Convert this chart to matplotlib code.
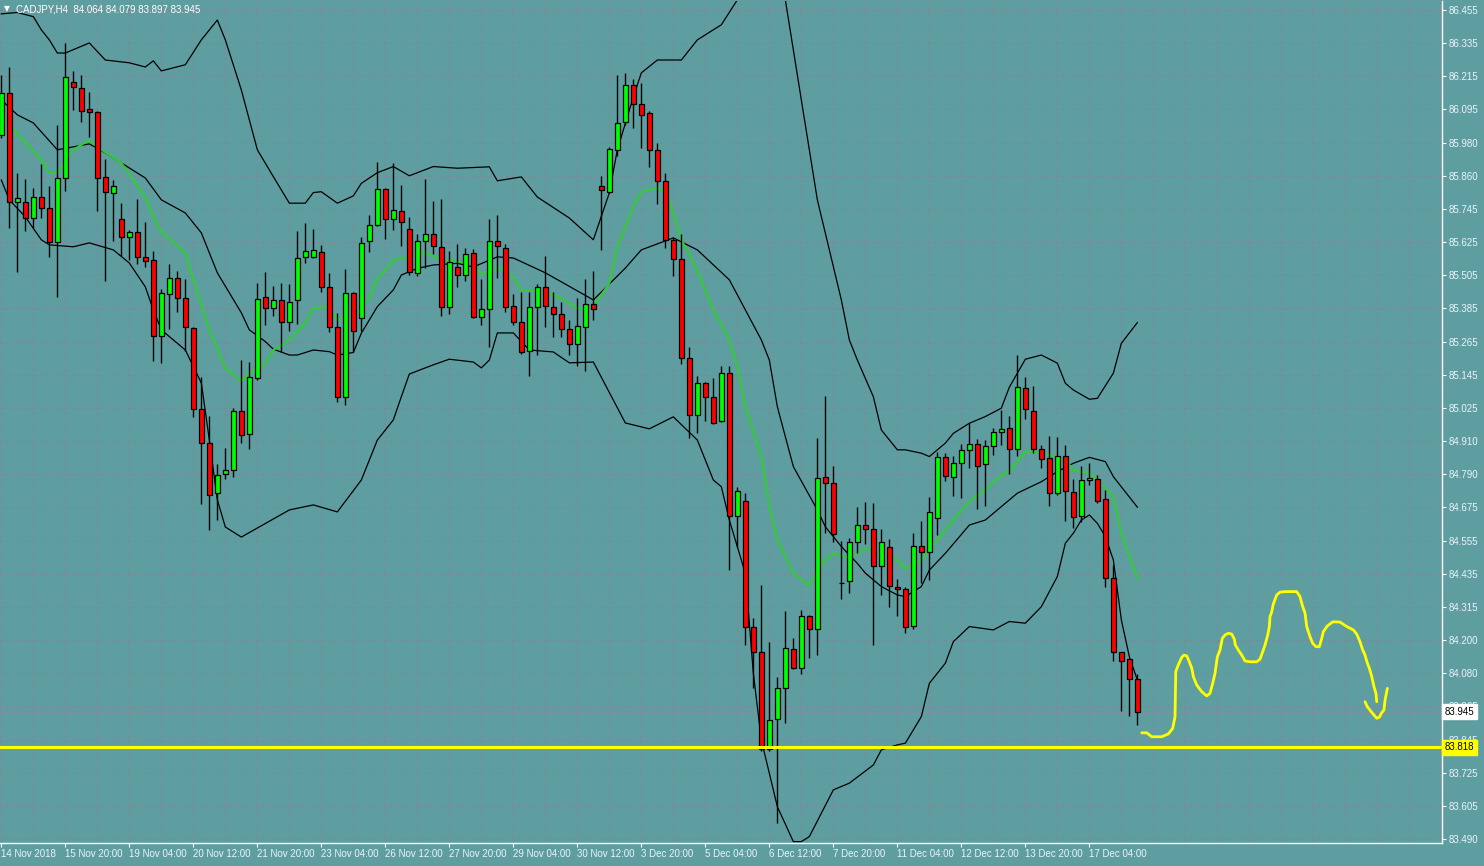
import matplotlib
matplotlib.use("Agg")
import matplotlib.pyplot as plt
import numpy as np

# ---------------- data ----------------
opens = [86.008, 86.157, 85.767, 85.767, 85.710, 85.785, 85.746, 85.624, 85.853, 86.197,
         86.175, 86.100, 86.089, 85.857, 85.802, 85.707, 85.644, 85.660, 85.571, 85.560,
         85.288, 85.438, 85.496, 85.424, 85.317, 85.027, 84.908, 84.727, 84.795, 84.810,
         85.021, 84.938, 85.138, 85.428, 85.388, 85.416, 85.340, 85.416, 85.571, 85.571,
         85.591, 85.463, 85.320, 85.070, 85.442, 85.353, 85.628, 85.687, 85.816, 85.707,
         85.737, 85.673, 85.514, 85.628, 85.653, 85.609, 85.392, 85.535, 85.507, 85.585,
         85.358, 85.385, 85.630, 85.603, 85.398, 85.340, 85.237, 85.394, 85.466, 85.392,
         85.367, 85.313, 85.260, 85.323, 85.403, 85.827, 85.805, 85.955, 86.054, 86.187,
         86.118, 86.086, 85.955, 85.845, 85.633, 85.564, 85.210, 85.005, 85.120, 85.070,
         84.984, 85.156, 84.646, 84.700, 84.247, 84.160, 83.811, 83.918, 84.029, 84.169,
         84.101, 84.288, 84.240, 84.786, 84.762, 84.407, 84.413, 84.551, 84.612, 84.598,
         84.468, 84.536, 84.393, 84.383, 84.252, 84.539, 84.516, 84.637, 84.855, 84.784,
         84.834, 84.881, 84.902, 84.830, 84.896, 84.945, 84.959, 84.884, 85.102, 85.022,
         84.884, 84.852, 84.727, 84.860, 84.732, 84.646, 84.773, 84.777, 84.705, 84.423,
         84.158, 84.135, 84.064]
highs = [86.223, 86.252, 85.871, 85.850, 85.818, 85.903, 85.826, 86.044, 86.338, 86.235,
         86.223, 86.161, 86.095, 85.921, 85.847, 85.764, 85.668, 85.778, 85.696, 85.593,
         85.456, 85.547, 85.522, 85.492, 85.320, 85.142, 85.003, 84.832, 84.888, 85.033,
         85.203, 85.195, 85.478, 85.517, 85.468, 85.478, 85.474, 85.665, 85.692, 85.671,
         85.614, 85.514, 85.370, 85.528, 85.445, 85.642, 85.722, 85.913, 85.820, 85.907,
         85.829, 85.714, 85.653, 85.850, 85.772, 85.778, 85.594, 85.618, 85.603, 85.599,
         85.493, 85.707, 85.722, 85.617, 85.438, 85.448, 85.448, 85.475, 85.575, 85.446,
         85.412, 85.347, 85.424, 85.492, 85.522, 85.862, 85.965, 86.223, 86.231, 86.207,
         86.195, 86.095, 85.978, 85.871, 85.639, 85.654, 85.251, 85.146, 85.125, 85.138,
         85.182, 85.182, 84.749, 84.729, 84.280, 84.399, 84.196, 84.069, 84.306, 84.208,
         84.309, 84.292, 84.926, 85.075, 84.824, 84.556, 84.566, 84.677, 84.697, 84.691,
         84.598, 84.562, 84.419, 84.393, 84.586, 84.628, 84.712, 84.875, 84.870, 84.860,
         84.903, 84.979, 84.920, 84.917, 84.959, 85.025, 85.004, 85.221, 85.142, 85.110,
         84.899, 84.932, 84.929, 84.899, 84.777, 84.824, 84.834, 84.792, 84.739, 84.470,
         84.160, 84.137, 84.079]
lows = [85.997, 85.677, 85.519, 85.666, 85.677, 85.712, 85.573, 85.430, 85.809, 86.098,
        86.056, 86.002, 85.737, 85.484, 85.630, 85.576, 85.561, 85.547, 85.537, 85.201,
        85.194, 85.313, 85.376, 85.237, 85.001, 84.687, 84.595, 84.631, 84.777, 84.784,
        84.906, 84.884, 85.132, 85.329, 85.361, 85.233, 85.308, 85.332, 85.551, 85.567,
        85.448, 85.305, 85.054, 85.043, 85.233, 85.308, 85.591, 85.683, 85.636, 85.668,
        85.611, 85.507, 85.504, 85.531, 85.583, 85.362, 85.368, 85.466, 85.487, 85.353,
        85.329, 85.249, 85.496, 85.376, 85.329, 85.225, 85.147, 85.221, 85.323, 85.287,
        85.287, 85.221, 85.180, 85.165, 85.347, 85.597, 85.800, 85.931, 86.044, 86.032,
        85.963, 85.895, 85.761, 85.603, 85.504, 85.189, 84.923, 84.943, 84.986, 84.975,
        84.980, 84.452, 84.535, 84.184, 84.029, 83.806, 83.806, 83.546, 83.904, 84.097,
        84.079, 84.137, 84.148, 84.584, 84.554, 84.348, 84.369, 84.514, 84.545, 84.184,
        84.363, 84.321, 84.288, 84.226, 84.243, 84.405, 84.417, 84.578, 84.772, 84.717,
        84.711, 84.818, 84.669, 84.681, 84.864, 84.899, 84.796, 84.860, 84.991, 84.870,
        84.818, 84.682, 84.720, 84.629, 84.604, 84.625, 84.755, 84.693, 84.393, 84.128,
        83.949, 83.930, 83.897]
closes = [86.157, 85.767, 85.782, 85.710, 85.785, 85.746, 85.624, 85.853, 86.215, 86.179,
          86.095, 86.089, 85.853, 85.805, 85.826, 85.644, 85.660, 85.571, 85.559, 85.288,
          85.442, 85.496, 85.424, 85.320, 85.027, 84.908, 84.721, 84.791, 84.810, 85.021,
          84.935, 85.142, 85.421, 85.388, 85.416, 85.340, 85.412, 85.567, 85.592, 85.596,
          85.463, 85.320, 85.072, 85.444, 85.308, 85.623, 85.687, 85.816, 85.707, 85.741,
          85.696, 85.517, 85.628, 85.653, 85.610, 85.392, 85.555, 85.506, 85.584, 85.356,
          85.385, 85.630, 85.611, 85.394, 85.340, 85.233, 85.394, 85.466, 85.398, 85.367,
          85.313, 85.260, 85.326, 85.403, 85.385, 85.811, 85.957, 86.050, 86.187, 86.118,
          86.080, 85.955, 85.845, 85.633, 85.564, 85.210, 85.005, 85.120, 85.072, 84.979,
          85.156, 84.646, 84.736, 84.247, 84.160, 83.811, 83.916, 84.029, 84.172, 84.101,
          84.288, 84.240, 84.780, 84.762, 84.580, 84.407, 84.551, 84.612, 84.598, 84.468,
          84.554, 84.396, 84.383, 84.247, 84.539, 84.516, 84.659, 84.855, 84.789, 84.834,
          84.881, 84.902, 84.824, 84.896, 84.945, 84.956, 84.884, 85.106, 85.027, 84.884,
          84.848, 84.727, 84.860, 84.736, 84.643, 84.773, 84.780, 84.700, 84.423, 84.158,
          84.127, 84.061, 83.945]

# Bollinger bands (upper / middle / lower) and fast MA, read at bar indices
upper_bars = [0, 2, 4, 5, 6, 7, 8, 11, 13, 16, 18, 19, 20, 23, 25, 27, 28, 30, 32, 34, 36, 38,
              39, 40, 42, 44, 45, 47, 49, 51, 54, 57, 61, 62, 65, 67, 71, 74, 76, 77, 79, 80,
              82, 85, 87, 90, 92, 94, 96, 98, 100, 102, 105, 106, 107, 109, 110, 112, 113,
              115, 116, 118, 119, 121, 123, 125, 126, 128, 130, 132, 133, 134, 136, 137,
              139, 140, 142]
upper_vals = [86.441, 86.446, 86.431, 86.384, 86.348, 86.301, 86.301, 86.337, 86.276, 86.266,
              86.251, 86.273, 86.237, 86.259, 86.348, 86.419, 86.348, 86.169, 85.955, 85.859,
              85.764, 85.764, 85.802, 85.805, 85.764, 85.790, 85.835, 85.873, 85.895, 85.862,
              85.895, 85.889, 85.894, 85.844, 85.858, 85.786, 85.711, 85.633, 85.801, 85.955,
              86.144, 86.230, 86.276, 86.276, 86.348, 86.402, 86.491, 86.620, 86.650, 86.491,
              86.133, 85.776, 85.418, 85.275, 85.203, 85.072, 84.953, 84.882, 84.882, 84.870,
              84.858, 84.906, 84.941, 84.977, 85.001, 85.031, 85.106, 85.206, 85.221, 85.192,
              85.120, 85.096, 85.063, 85.066, 85.156, 85.263, 85.337]

middle_bars = [0, 2, 4, 7, 11, 13, 18, 20, 23, 25, 27, 30, 31, 33, 34, 36, 37, 39, 41, 42, 44,
               45, 47, 49, 50, 52, 54, 57, 59, 62, 64, 68, 74, 78, 80, 84, 87, 91, 95, 96, 97,
               99, 102, 103, 105, 107, 108, 110, 112, 113, 115, 116, 118, 121, 123, 125, 127,
               130, 132, 134, 136, 138, 139, 142]
middle_vals = [86.133, 86.080, 86.051, 85.955, 85.976, 85.944, 85.854, 85.776, 85.729, 85.658,
               85.515, 85.372, 85.311, 85.269, 85.242, 85.221, 85.221, 85.239, 85.233, 85.221,
               85.230, 85.299, 85.394, 85.454, 85.507, 85.531, 85.543, 85.549, 85.536, 85.572,
               85.568, 85.515, 85.418, 85.532, 85.597, 85.640, 85.597, 85.490, 85.275, 85.203,
               85.036, 84.822, 84.667, 84.607, 84.536, 84.476, 84.441, 84.393, 84.363, 84.357,
               84.393, 84.452, 84.512, 84.613, 84.631, 84.679, 84.727, 84.768, 84.804, 84.834,
               84.855, 84.840, 84.786, 84.677]

lower_bars = [0, 1, 3, 5, 6, 9, 11, 14, 16, 18, 19, 20, 23, 25, 26, 27, 28, 30, 36, 39, 42,
              45, 47, 49, 50, 51, 54, 56, 59, 60, 61, 62, 64, 66, 69, 71, 74, 78, 81, 84, 87,
              89, 90, 91, 93, 94, 95, 96, 97, 99, 100, 101, 104, 106, 109, 110, 112, 113, 115,
              116, 118, 119, 121, 124, 126, 128, 130, 132, 133, 134, 135, 136, 137, 138, 139,
              140, 141, 142]
lower_vals = [85.847, 85.776, 85.715, 85.633, 85.615, 85.608, 85.622, 85.597, 85.550, 85.465,
              85.382, 85.311, 85.239, 85.121, 84.917, 84.703, 84.606, 84.570, 84.667, 84.685,
              84.660, 84.774, 84.917, 84.989, 85.072, 85.153, 85.186, 85.206, 85.196, 85.175,
              85.203, 85.300, 85.300, 85.239, 85.232, 85.193, 85.196, 84.978, 84.957, 85.000,
              84.917, 84.774, 84.750, 84.631, 84.440, 84.083, 83.844, 83.725, 83.606, 83.481,
              83.481, 83.499, 83.666, 83.690, 83.755, 83.809, 83.827, 83.833, 83.928, 84.047,
              84.119, 84.196, 84.250, 84.238, 84.268, 84.262, 84.321, 84.429, 84.548, 84.584,
              84.631, 84.649, 84.619, 84.572, 84.488, 84.274, 84.142, 84.059]

ma_bars = [0, 3, 5, 6, 7, 9, 11, 12, 15, 18, 19, 20, 23, 24, 26, 28, 30, 31, 33, 34, 36, 38,
           39, 41, 42, 43, 44, 46, 47, 48, 49, 51, 52, 53, 54, 55, 57, 59, 60, 61, 62, 64, 65,
           68, 70, 72, 74, 76, 77, 79, 80, 82, 83, 84, 85, 86, 87, 89, 91, 92, 93, 95, 96, 97,
           99, 101, 102, 103, 104, 106, 108, 110, 112, 113, 115, 117, 119, 121, 123, 125, 126,
           128, 129, 131, 133, 134, 136, 137, 139, 140, 142]
ma_vals = [86.080, 85.980, 85.919, 85.872, 85.872, 85.955, 85.990, 85.965, 85.908, 85.786,
           85.715, 85.661, 85.586, 85.490, 85.311, 85.175, 85.126, 85.156, 85.192, 85.239,
           85.275, 85.335, 85.388, 85.394, 85.347, 85.353, 85.358, 85.424, 85.496, 85.525,
           85.561, 85.573, 85.579, 85.585, 85.575, 85.561, 85.555, 85.549, 85.508, 85.525,
           85.537, 85.501, 85.454, 85.448, 85.424, 85.388, 85.394, 85.478, 85.609, 85.752,
           85.805, 85.818, 85.805, 85.728, 85.633, 85.580, 85.520, 85.382, 85.275, 85.180,
           85.036, 84.858, 84.679, 84.560, 84.441, 84.395, 84.452, 84.488, 84.512, 84.494,
           84.530, 84.512, 84.488, 84.458, 84.488, 84.560, 84.631, 84.697, 84.739, 84.792,
           84.804, 84.876, 84.876, 84.864, 84.846, 84.810, 84.798, 84.774, 84.715, 84.584,
           84.423]

# freehand yellow drawing (time in bar units, price)
sketch1_t = [142.55, 143.17, 143.8, 145.05, 145.87, 146.42, 146.71, 146.8, 147.12, 147.55,
             147.83, 148.17, 148.5, 148.8, 149.0, 149.42, 150.05, 150.67, 151.08, 151.42,
             151.71, 152.0, 152.33, 152.62, 152.96, 153.37, 153.8, 154.12, 154.25, 154.62,
             155.05, 155.46, 156.08, 156.92, 157.33, 157.67, 157.96, 158.3, 158.5, 158.58,
             158.8, 159.0, 159.42, 159.83, 160.46, 161.92, 162.33, 162.67, 162.96, 163.17,
             163.58, 163.92, 164.33, 164.75, 165.05, 165.25, 165.75, 166.42, 167.33, 168.17,
             169.0, 169.42, 169.83, 170.17, 170.46, 170.75, 171.0, 171.3, 171.58, 171.83,
             171.92]
sketch1_p = [83.870, 83.870, 83.856, 83.856, 83.866, 83.886, 83.928, 84.089, 84.113, 84.140,
             84.148, 84.145, 84.124, 84.101, 84.071, 84.041, 84.017, 84.002, 84.011, 84.047,
             84.083, 84.142, 84.166, 84.208, 84.220, 84.226, 84.223, 84.205, 84.184, 84.166,
             84.148, 84.127, 84.124, 84.124, 84.133, 84.160, 84.184, 84.220, 84.250, 84.285,
             84.303, 84.331, 84.363, 84.373, 84.375, 84.375, 84.357, 84.321, 84.298, 84.250,
             84.214, 84.190, 84.178, 84.178, 84.208, 84.232, 84.252, 84.267, 84.266, 84.250,
             84.238, 84.223, 84.196, 84.166, 84.148, 84.119, 84.101, 84.071, 84.035, 84.011,
             83.981]
sketch2_t = [170.46, 170.75, 171.3, 171.92, 172.25, 172.55, 172.83, 172.96, 173.25]
sketch2_p = [83.981, 83.963, 83.943, 83.922, 83.926, 83.942, 83.952, 83.987, 84.029]

support_level = 83.818
last_price = 83.945
symbol_header = "CADJPY,H4  84.064 84.079 83.897 83.945"

date_labels = ["14 Nov 2018", "15 Nov 20:00", "19 Nov 04:00", "20 Nov 12:00", "21 Nov 20:00",
               "23 Nov 04:00", "26 Nov 12:00", "27 Nov 20:00", "29 Nov 04:00", "30 Nov 12:00",
               "3 Dec 20:00", "5 Dec 04:00", "6 Dec 12:00", "7 Dec 20:00", "11 Dec 04:00",
               "12 Dec 12:00", "13 Dec 20:00", "17 Dec 04:00"]
price_labels = ["86.455", "86.335", "86.215", "86.095", "85.980", "85.860", "85.745", "85.625",
                "85.505", "85.385", "85.265", "85.145", "85.025", "84.910", "84.790", "84.675",
                "84.555", "84.435", "84.315", "84.200", "84.080", "83.965", "83.845", "83.725",
                "83.605", "83.490"]

# ---------------- styling ----------------
BG = "#5F9EA0"
GRID = "#7A8A9A"
BULL = "#00FF00"
BEAR = "#FF0000"
MA = "#32CD32"
YEL = "#FFFF00"
W, H = 1484, 866

fig = plt.figure(figsize=(W / 100, H / 100), dpi=100, facecolor=BG)
ax = fig.add_axes([0, 23 / H, 1442 / W, 842 / H])
ax.set_facecolor(BG)

n = len(opens)
x = np.arange(n)
ax.set_xlim(-0.166, 180.08)
ax.set_ylim(83.476, 86.487)

# grid
price_pos = np.linspace(86.455, 83.490, len(price_labels))
for p in price_pos:
    ax.axhline(p, color=GRID, lw=0.8, ls=(0, (2.5, 2.5)), zorder=0)
for b in range(0, 181, 4):
    ax.axvline(b, color=GRID, lw=0.8, ls=(0, (2.5, 2.5)), zorder=0)

# bid line and support line
ax.axhline(last_price, color="#7F8FA0", lw=1.0, zorder=1)
ax.axhline(support_level, color=YEL, lw=2.2, zorder=5)

# indicators
ax.plot(upper_bars, upper_vals, color="black", lw=0.9, zorder=2)
ax.plot(middle_bars, middle_vals, color="black", lw=0.9, zorder=2)
ax.plot(lower_bars, lower_vals, color="black", lw=0.9, zorder=2)
ax.plot(ma_bars, ma_vals, color=MA, lw=1.5, zorder=2)

# candles
o = np.array(opens); c = np.array(closes); hi = np.array(highs); lo = np.array(lows)
ax.vlines(x, lo, hi, color="black", lw=1.0, zorder=3)
bottoms = np.minimum(o, c)
heights = np.abs(c - o)
cols = [BULL if cc > oo else (BEAR if cc < oo else "black") for oo, cc in zip(o, c)]
ax.bar(x, heights, bottom=bottoms, width=0.55, color=cols, edgecolor="black",
       linewidth=0.9, zorder=4)

# freehand sketch
ax.plot(sketch1_t, sketch1_p, color=YEL, lw=2.0, zorder=6, solid_capstyle="round",
        solid_joinstyle="round")
ax.plot(sketch2_t, sketch2_p, color=YEL, lw=2.0, zorder=6, solid_capstyle="round",
        solid_joinstyle="round")

# axes / ticks
for s in ["top", "left"]:
    ax.spines[s].set_visible(False)
for s in ["right", "bottom"]:
    ax.spines[s].set_color("white")
    ax.spines[s].set_linewidth(1.0)

ax.yaxis.tick_right()
ax.set_yticks(price_pos)
ax.set_yticklabels(price_labels)
ax.tick_params(axis="y", colors="white", length=3, width=0.8, pad=2, labelsize=7,
               labelcolor="#E8F4FF")
for lbl in ax.get_yticklabels():
    lbl.set_fontfamily("Liberation Sans")

ax.set_xticks(np.arange(0, 8 * len(date_labels), 8))
ax.set_xticklabels(date_labels)
ax.tick_params(axis="x", colors="white", length=3, width=0.8, pad=1, labelsize=7,
               labelcolor="#E8F4FF")
for lbl in ax.get_xticklabels():
    lbl.set_horizontalalignment("left")
    lbl.set_fontfamily("Liberation Sans")

# price boxes on the right axis (they cover the neighbouring grid labels, as in MT4)
box_kw = dict(xycoords=("axes fraction", "data"), xytext=(2, 0), textcoords="offset points",
              ha="left", va="center", fontsize=7, family="Liberation Sans", color="black",
              zorder=10, annotation_clip=False)
ax.annotate(f"{last_price:.3f}", xy=(1.0, last_price),
            bbox=dict(boxstyle="square,pad=0.25", fc="white", ec="white"), **box_kw)
ax.annotate(f"{support_level:.3f}", xy=(1.0, support_level),
            bbox=dict(boxstyle="square,pad=0.25", fc=YEL, ec=YEL), **box_kw)

# header
fig.text(4 / W, 1 - 9 / H, "\u25BC", color="white", fontsize=5.5, va="center", ha="left")
fig.text(16 / W, 1 - 9 / H, symbol_header, color="white", fontsize=7,
         family="Liberation Sans", va="center", ha="left")

fig.savefig("out.png", dpi=100, facecolor=BG)
